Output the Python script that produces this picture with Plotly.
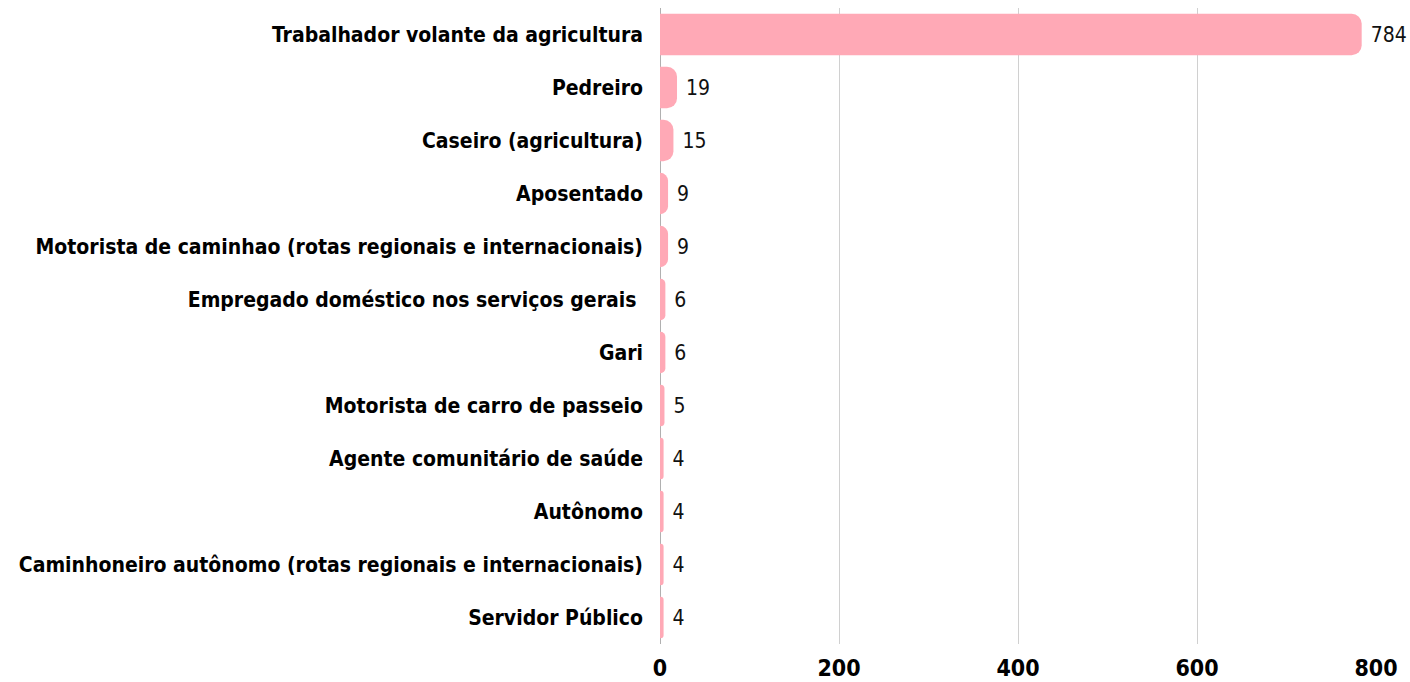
import plotly.graph_objects as go

categories = [
    "Trabalhador volante da agricultura",
    "Pedreiro",
    "Caseiro (agricultura)",
    "Aposentado",
    "Motorista de caminhao (rotas regionais e internacionais)",
    "Empregado doméstico nos serviços gerais\u00a0",
    "Gari",
    "Motorista de carro de passeio",
    "Agente comunitário de saúde",
    "Autônomo",
    "Caminhoneiro autônomo (rotas regionais e internacionais)",
    "Servidor Público",
]
values = [784, 19, 15, 9, 9, 6, 6, 5, 4, 4, 4, 4]
tick_values = [0, 200, 400, 600, 800]

label_font = "DejaVu Sans Condensed, Liberation Sans Narrow, Arial Narrow, sans-serif"

fig = go.Figure(
    go.Bar(
        x=values,
        y=categories,
        orientation="h",
        marker=dict(color="#ffa9b6", line=dict(width=0)),
        text=[str(v) for v in values],
        texttemplate="\u00a0%{text}",
        textposition="outside",
        textfont=dict(family=label_font, size=21, color="#111111"),
        cliponaxis=False,
        width=0.78,
    )
)

fig.update_layout(
    width=1410,
    height=682,
    margin=dict(l=660, r=34, t=8, b=38, autoexpand=False),
    paper_bgcolor="white",
    plot_bgcolor="white",
    barcornerradius=10,
    showlegend=False,
    xaxis=dict(
        range=[0, 800],
        tickvals=tick_values,
        showgrid=True,
        gridcolor="#d0d0d0",
        gridwidth=1,
        zeroline=True,
        zerolinecolor="#b0b0b0",
        zerolinewidth=1,
        tickfont=dict(family=label_font, size=23, color="#000000", weight="bold"),
        ticklabelstandoff=8,
        showline=False,
        ticks="",
        automargin=False,
    ),
    yaxis=dict(
        autorange="reversed",
        tickfont=dict(family=label_font, size=21, color="#000000", weight="bold"),
        ticklabelstandoff=16,
        showgrid=False,
        ticks="",
        automargin=False,
    ),
)

fig.write_html("out.html")
